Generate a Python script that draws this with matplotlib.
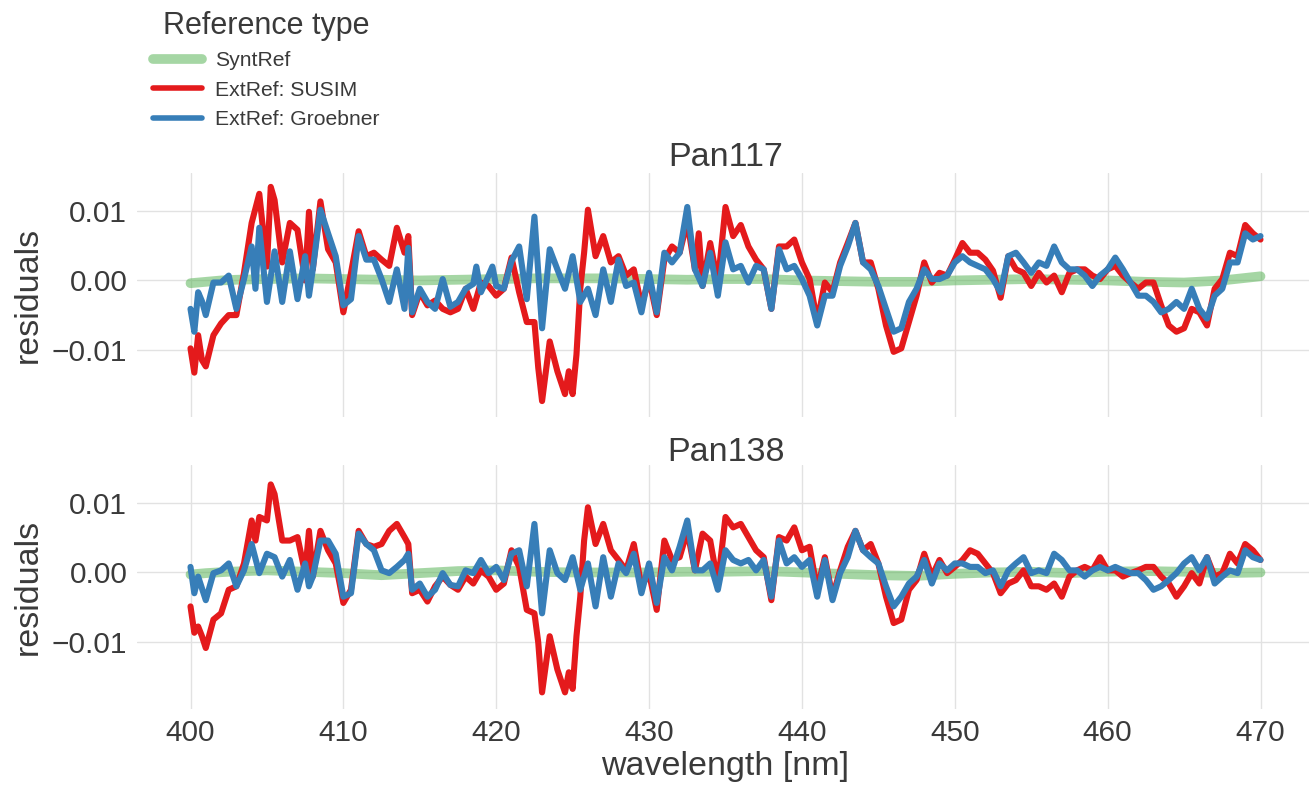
import numpy as np
import matplotlib
matplotlib.use("Agg")
import matplotlib.pyplot as plt
import seaborn as sns

# ---------------- data (residuals in units of 1e-3) ----------------
panels = ["Pan117", "Pan138"]
series_labels = ["SyntRef", "ExtRef: SUSIM", "ExtRef: Groebner"]
xticks = [400, 410, 420, 430, 440, 450, 460, 470]
yticks = [-0.01, 0.0, 0.01]

top_syntref = [(400.0, -0.4), (401.0, -0.2), (402.0, 0.0), (403.0, 0.1), (405.0, 0.2),
               (407.5, 0.3), (410.0, 0.2), (412.5, 0.1), (415.0, 0.0), (417.5, 0.1),
               (420.0, 0.2), (422.5, 0.3), (425.0, 0.3), (427.5, 0.3), (430.0, 0.2),
               (432.5, 0.1), (435.0, 0.2), (437.5, 0.2), (440.0, 0.0), (442.5, -0.1),
               (445.0, -0.2), (447.5, -0.2), (450.0, 0.0), (452.5, 0.1), (455.0, 0.2),
               (457.5, 0.1), (460.0, 0.0), (462.5, -0.2), (465.0, -0.3), (467.5, 0.0),
               (470.0, 0.6)]

top_susim = [(400.0, -9.8), (400.25, -13.3), (400.5, -7.9), (400.75, -11.5), (401.0, -12.4),
             (401.5, -7.9), (402.0, -6.2), (402.5, -5.0), (403.0, -5.0), (403.5, 1.1),
             (404.0, 8.3), (404.5, 12.5), (405.0, 2.0), (405.25, 13.5), (405.5, 11.6),
             (406.0, 2.6), (406.5, 8.3), (407.0, 7.3), (407.5, 0.0), (407.75, 9.9),
             (408.0, 1.6), (408.5, 11.4), (409.0, 4.5), (409.5, 2.6), (410.0, -4.6),
             (410.5, 1.1), (411.0, 7.1), (411.5, 3.5), (412.0, 4.0), (412.5, 3.0),
             (413.0, 2.1), (413.5, 7.6), (414.0, 4.0), (414.25, 6.4), (414.5, -5.0),
             (415.0, -1.7), (415.5, -3.6), (416.0, -2.9), (416.5, -4.1), (417.0, -4.6),
             (417.5, -4.1), (418.0, -1.2), (418.5, -4.1), (419.0, -0.3), (419.5, -0.8),
             (420.0, -2.2), (420.5, -1.2), (421.0, 3.3), (421.5, -1.7), (422.0, -6.0),
             (422.5, -6.0), (422.75, -12.6), (423.0, -17.4), (423.5, -8.8), (424.0, -13.1),
             (424.5, -16.4), (424.75, -13.1), (425.0, -16.4), (425.25, -10.7), (425.5, -1.2),
             (425.75, 4.0), (426.0, 10.2), (426.5, 3.5), (427.0, 6.4), (427.5, 2.6),
             (428.0, 3.5), (428.5, 0.7), (429.0, 1.6), (429.5, -3.6), (430.0, 0.2),
             (430.5, -5.0), (431.0, 3.0), (431.5, 4.9), (432.0, 4.0), (432.5, 8.5),
             (433.0, 1.6), (433.25, 6.8), (433.5, -0.8), (434.0, 5.4), (434.5, -0.3),
             (435.0, 10.6), (435.5, 6.4), (436.0, 8.0), (436.5, 4.9), (437.0, 3.0),
             (437.5, 1.6), (438.0, -4.1), (438.5, 4.9), (439.0, 4.9), (439.5, 5.9),
             (440.0, 2.6), (440.5, 0.2), (441.0, -6.0), (441.5, -0.3), (442.0, -1.7),
             (442.5, 2.6), (443.0, 5.4), (443.5, 8.3), (444.0, 2.6), (444.5, 2.6),
             (445.0, -1.2), (445.5, -6.5), (446.0, -10.3), (446.5, -9.8), (447.0, -6.0),
             (447.5, -2.2), (448.0, 2.6), (448.5, -0.3), (449.0, 1.1), (449.5, 0.7),
             (450.0, 3.0), (450.5, 5.4), (451.0, 4.0), (451.5, 4.0), (452.0, 3.0),
             (452.5, 1.4), (453.0, -2.5), (453.5, 3.5), (454.0, 1.6), (454.5, 1.1),
             (455.0, -0.8), (455.5, 1.1), (456.0, -0.3), (456.5, 0.7), (457.0, -1.7),
             (457.5, 1.1), (458.0, 1.6), (458.5, 1.6), (459.0, 0.7), (459.5, 0.2),
             (460.0, 1.6), (460.5, 2.1), (461.0, 0.7), (461.5, -0.3), (462.0, -1.2),
             (462.5, -0.3), (463.0, -0.3), (463.5, -3.6), (464.0, -6.5), (464.5, -7.4),
             (465.0, -6.9), (465.5, -4.1), (466.0, -4.6), (466.5, -6.5), (467.0, -1.2),
             (467.5, 0.2), (468.0, 4.0), (468.5, 3.5), (469.0, 8.0), (469.5, 6.8),
             (470.0, 5.9)]

top_groebner = [(400.0, -4.1), (400.25, -7.4), (400.5, -1.7), (400.75, -3.0), (401.0, -5.0),
                (401.5, -0.3), (402.0, -0.3), (402.5, 0.7), (403.0, -4.1), (403.5, 0.2),
                (404.0, 4.9), (404.25, -1.2), (404.5, 7.6), (405.0, -3.1), (405.5, 4.2),
                (406.0, -3.1), (406.5, 4.2), (407.0, -2.7), (407.5, 3.5), (407.75, -2.2),
                (408.0, 1.6), (408.5, 10.2), (409.0, 6.8), (409.5, 3.5), (410.0, -3.6),
                (410.5, -2.7), (411.0, 6.4), (411.5, 3.0), (412.0, 3.0), (412.5, 0.2),
                (413.0, -3.1), (413.5, 1.6), (414.0, -4.1), (414.25, 4.7), (414.5, -4.6),
                (415.0, -1.2), (415.5, -3.1), (416.0, -4.1), (416.5, 0.2), (417.0, -3.8),
                (417.5, -3.1), (418.0, -1.2), (418.5, -0.5), (418.7, 2.0), (419.0, -1.7),
                (419.5, 0.7), (419.75, 2.0), (420.0, -0.8), (420.5, -1.2), (421.0, 2.8),
                (421.5, 4.9), (422.0, -2.7), (422.5, 9.2), (423.0, -6.9), (423.5, 4.5),
                (424.0, 1.6), (424.5, -1.2), (425.0, 3.5), (425.5, -3.1), (426.0, -1.2),
                (426.5, -5.0), (427.0, 1.6), (427.5, -3.1), (428.0, 3.0), (428.5, -0.8),
                (429.0, -0.3), (429.5, -4.6), (430.0, 1.1), (430.5, -4.6), (431.0, 4.0),
                (431.5, 2.6), (432.0, 4.0), (432.5, 10.6), (433.0, 1.6), (433.5, -0.8),
                (434.0, 4.0), (434.5, -2.2), (435.0, 5.5), (435.5, 1.6), (436.0, 2.1),
                (436.5, -0.3), (437.0, 2.1), (437.5, 1.6), (438.0, -4.1), (438.5, 4.5),
                (439.0, 1.6), (439.5, 2.1), (440.0, 0.2), (440.5, -2.2), (441.0, -6.5),
                (441.5, -2.2), (442.0, -2.2), (442.5, 2.1), (443.0, 4.9), (443.5, 8.3),
                (444.0, 2.6), (444.5, 1.6), (445.0, -0.8), (445.5, -4.1), (446.0, -7.4),
                (446.5, -6.9), (447.0, -3.1), (447.5, -1.2), (448.0, 1.6), (448.5, 0.2),
                (449.0, 0.2), (449.5, 0.7), (450.0, 2.6), (450.5, 3.5), (451.0, 2.6),
                (451.5, 2.1), (452.0, 1.6), (452.5, 0.2), (453.0, -1.7), (453.5, 3.5),
                (454.0, 4.0), (454.5, 2.6), (455.0, 1.1), (455.5, 2.6), (456.0, 2.1),
                (456.5, 4.9), (457.0, 2.6), (457.5, 1.6), (458.0, 1.6), (458.5, 0.7),
                (459.0, -0.8), (459.5, 0.7), (460.0, 1.6), (460.5, 3.3), (461.0, 1.6),
                (461.5, -0.3), (462.0, -2.2), (462.5, -2.2), (463.0, -3.1), (463.5, -4.6),
                (464.0, -4.1), (464.5, -3.1), (465.0, -4.1), (465.5, -1.2), (466.0, -4.1),
                (466.5, -5.5), (467.0, -2.2), (467.5, -1.2), (468.0, 2.6), (468.5, 2.6),
                (469.0, 6.8), (469.5, 5.9), (470.0, 6.4)]

bottom_syntref = [(400.0, -0.3), (401.0, -0.1), (402.5, 0.1), (405.0, 0.3), (407.5, 0.1),
                  (410.0, -0.1), (412.5, -0.4), (415.0, -0.1), (417.5, 0.2), (420.0, 0.3),
                  (422.5, 0.1), (425.0, 0.0), (427.5, 0.0), (430.0, 0.0), (432.5, 0.1),
                  (435.0, 0.1), (437.5, 0.2), (440.0, 0.0), (442.5, -0.2), (445.0, -0.4),
                  (447.5, -0.5), (450.0, -0.2), (452.5, 0.0), (455.0, 0.1), (457.5, -0.1),
                  (460.0, 0.1), (462.5, 0.2), (465.0, 0.1), (467.5, -0.1), (470.0, 0.0)]

bottom_susim = [(400.0, -4.9), (400.25, -8.7), (400.5, -7.8), (400.75, -9.2), (401.0, -10.9),
                (401.5, -6.8), (402.0, -5.9), (402.5, -2.5), (403.0, -2.0), (403.5, 1.3),
                (404.0, 7.5), (404.25, 4.6), (404.5, 8.0), (405.0, 7.5), (405.25, 12.7),
                (405.5, 11.3), (406.0, 4.6), (406.5, 4.6), (407.0, 5.1), (407.5, -0.1),
                (407.75, 6.0), (408.0, -0.6), (408.5, 6.0), (409.0, 3.2), (409.5, 1.3),
                (410.0, -4.4), (410.5, -2.5), (411.0, 6.0), (411.5, 4.1), (412.0, 3.7),
                (412.5, 4.1), (413.0, 6.0), (413.5, 7.0), (414.0, 5.1), (414.25, 4.1),
                (414.5, -3.0), (415.0, -2.5), (415.5, -4.2), (416.0, -2.0), (416.5, -0.6),
                (417.0, -1.8), (417.5, -2.5), (418.0, -0.6), (418.5, -1.6), (419.0, 0.3),
                (419.5, -0.6), (420.0, -2.5), (420.5, -1.6), (421.0, 3.2), (421.5, 0.8),
                (422.0, -5.4), (422.5, -5.9), (422.75, -10.1), (423.0, -17.3), (423.5, -9.2),
                (424.0, -14.0), (424.5, -17.3), (424.75, -14.4), (425.0, -16.8), (425.25, -9.2),
                (425.5, -3.5), (425.75, 4.6), (426.0, 9.4), (426.5, 4.1), (427.0, 7.0),
                (427.5, 3.2), (428.0, 1.8), (428.5, 0.3), (429.0, 4.1), (429.5, -2.0),
                (430.0, -0.1), (430.5, -5.4), (431.0, 4.6), (431.5, 1.8), (432.0, 2.2),
                (432.5, 6.0), (433.0, 0.3), (433.5, 5.6), (434.0, 4.6), (434.5, -1.6),
                (435.0, 8.0), (435.5, 6.5), (436.0, 7.0), (436.5, 5.1), (437.0, 3.2),
                (437.5, 2.2), (438.0, -4.0), (438.5, 5.1), (439.0, 4.6), (439.5, 6.5),
                (440.0, 3.2), (440.5, 3.7), (441.0, -2.5), (441.5, 2.2), (442.0, -3.5),
                (442.5, 0.3), (443.0, 3.7), (443.5, 6.0), (444.0, 3.2), (444.5, 4.1),
                (445.0, 1.3), (445.5, -3.5), (446.0, -7.3), (446.5, -6.8), (447.0, -2.5),
                (447.5, -1.1), (448.0, 2.7), (448.5, -0.6), (449.0, 1.8), (449.5, -0.1),
                (450.0, 0.8), (450.5, 1.8), (451.0, 3.2), (451.5, 2.7), (452.0, 1.3),
                (452.5, -0.1), (453.0, -3.0), (453.5, -1.6), (454.0, -1.1), (454.5, 0.3),
                (455.0, -2.0), (455.5, -2.0), (456.0, -2.5), (456.5, -1.6), (457.0, -3.5),
                (457.5, -0.6), (458.0, 0.3), (458.5, 0.8), (459.0, 0.3), (459.5, 2.2),
                (460.0, 0.3), (460.5, 0.3), (461.0, -0.6), (461.5, -0.1), (462.0, 0.3),
                (462.5, 0.8), (463.0, 0.8), (463.5, -0.6), (464.0, -1.6), (464.5, -3.5),
                (465.0, -2.0), (465.5, -0.1), (466.0, -1.6), (466.5, 2.2), (467.0, -0.6),
                (467.5, -0.1), (468.0, 2.7), (468.5, 1.3), (469.0, 4.1), (469.5, 3.2),
                (470.0, 1.8)]

bottom_groebner = [(400.0, 0.8), (400.25, -3.0), (400.5, -0.6), (401.0, -4.0), (401.5, -0.1),
                   (402.0, 0.3), (402.5, 1.3), (403.0, -2.0), (403.5, 0.3), (404.0, 4.1),
                   (404.5, -0.1), (405.0, 2.7), (405.5, 2.2), (406.0, -0.6), (406.5, 1.8),
                   (407.0, -2.5), (407.5, 1.3), (407.75, -2.0), (408.0, -0.6), (408.5, 4.6),
                   (409.0, 4.6), (409.5, 2.7), (410.0, -3.5), (410.5, -3.0), (411.0, 5.6),
                   (411.5, 4.1), (412.0, 3.2), (412.5, 0.3), (413.0, -0.1), (413.5, 0.8),
                   (414.0, 1.8), (414.25, 2.7), (414.5, -2.5), (415.0, -1.6), (415.5, -3.5),
                   (416.0, -2.5), (416.5, -0.1), (417.0, -1.8), (417.5, -2.0), (418.0, 0.3),
                   (418.5, -0.1), (419.0, 1.8), (419.5, -0.1), (420.0, 0.8), (420.5, -1.1),
                   (421.0, 2.7), (421.5, 3.2), (422.0, -2.0), (422.5, 7.0), (423.0, -5.9),
                   (423.5, 3.2), (424.0, -0.1), (424.5, -1.1), (425.0, 2.2), (425.5, -2.5),
                   (426.0, 1.3), (426.5, -4.9), (427.0, 2.2), (427.5, -3.5), (428.0, 1.3),
                   (428.5, -0.1), (429.0, 2.7), (429.5, -3.0), (430.0, 1.3), (430.5, -4.4),
                   (431.0, 2.2), (431.5, 0.3), (432.0, 3.7), (432.5, 7.5), (433.0, 0.3),
                   (433.5, 0.3), (434.0, 1.3), (434.5, -2.5), (435.0, 3.2), (435.5, 1.8),
                   (436.0, 1.3), (436.5, 1.8), (437.0, 0.3), (437.5, 1.8), (438.0, -3.5),
                   (438.5, 4.6), (439.0, 1.3), (439.5, 2.2), (440.0, 0.8), (440.5, 1.8),
                   (441.0, -3.5), (441.5, 1.8), (442.0, -4.0), (442.5, -0.1), (443.0, 2.2),
                   (443.5, 6.0), (444.0, 3.2), (444.5, 2.2), (445.0, 1.3), (445.5, -2.0),
                   (446.0, -4.9), (446.5, -3.5), (447.0, -1.6), (447.5, -0.6), (448.0, 1.8),
                   (448.5, -1.6), (449.0, 1.3), (449.5, 0.3), (450.0, 1.3), (450.5, 1.3),
                   (451.0, 0.8), (451.5, 0.8), (452.0, -0.1), (452.5, 0.3), (453.0, -2.0),
                   (453.5, 0.3), (454.0, 1.3), (454.5, 2.2), (455.0, -0.1), (455.5, 0.3),
                   (456.0, -0.1), (456.5, 2.7), (457.0, 1.8), (457.5, 0.3), (458.0, 0.3),
                   (458.5, -0.6), (459.0, 0.3), (459.5, 0.8), (460.0, 0.3), (460.5, 0.8),
                   (461.0, 0.3), (461.5, -0.1), (462.0, -0.1), (462.5, -1.1), (463.0, -2.5),
                   (463.5, -2.0), (464.0, -1.1), (464.5, -0.1), (465.0, 1.3), (465.5, 2.2),
                   (466.0, 0.3), (466.5, 2.2), (467.0, -1.6), (467.5, -0.6), (468.0, 0.3),
                   (468.5, -0.1), (469.0, 3.2), (469.5, 2.2), (470.0, 1.8)]

panel_data = [
    [top_syntref, top_susim, top_groebner],
    [bottom_syntref, bottom_susim, bottom_groebner],
]

# ---------------- style ----------------
sns.set_theme(style="whitegrid")
plt.rcParams["font.family"] = ["Liberation Sans", "DejaVu Sans"]
text_color = "#3a3a3a"
plt.rcParams.update({
    "text.color": text_color,
    "axes.labelcolor": text_color,
    "xtick.color": text_color,
    "ytick.color": text_color,
    "grid.color": "#e2e2e2",
    "grid.linewidth": 1.0,
})

set1 = sns.color_palette("Set1")
colors = [set1[2], set1[0], set1[1]]
widths = [7.0, 4.4, 4.4]
alphas = [0.5, 1.0, 1.0]

W, H = 1309, 786
fig = plt.figure(figsize=(W / 100, H / 100), dpi=100)
ax_top = fig.add_axes([137 / W, 1 - 417 / H, 1177 / W, 244 / H])
ax_bot = fig.add_axes([137 / W, 1 - 709 / H, 1177 / W, 244 / H], sharex=ax_top, sharey=ax_top)

handles = []
for ax, name, series in zip([ax_top, ax_bot], panels, panel_data):
    for s, lab, c, lw, a in zip(series, series_labels, colors, widths, alphas):
        arr = np.array(s)
        (h,) = ax.plot(arr[:, 0], arr[:, 1] * 1e-3, color=c, lw=lw, alpha=a,
                       label=lab, solid_joinstyle="round", solid_capstyle="round")
        if ax is ax_top:
            handles.append(h)
    ax.set_title(name, fontsize=24.5, pad=3, color=text_color)
    ax.set_ylabel("residuals", fontsize=24.5, labelpad=6)
    for sp in ax.spines.values():
        sp.set_visible(False)
    ax.tick_params(axis="both", labelsize=21.5, pad=7, length=0)
    ax.set_yticks(yticks)
    ax.set_yticklabels(["\u22120.01", "0.00", "0.01"])

ax_top.set_xlim(396.5, 473.5)
ax_top.set_ylim(-0.0197, 0.0155)
ax_top.set_xticks(xticks)
plt.setp(ax_top.get_xticklabels(), visible=False)
ax_bot.set_xlabel("wavelength [nm]", fontsize=24.5, labelpad=3)

leg = fig.legend(handles=handles, labels=series_labels, title="Reference type",
                 loc="upper left", bbox_to_anchor=(142 / W, 1.0), frameon=False,
                 fontsize=15.2, title_fontsize=22, handlelength=2.35,
                 handletextpad=0.6, labelspacing=0.5, borderaxespad=0.1)
for lh, lw in zip(leg.get_lines(), [7.0, 4.0, 4.0]):
    lh.set_linewidth(lw)
leg.get_title().set_color(text_color)

fig.savefig("out.png", dpi=100)
